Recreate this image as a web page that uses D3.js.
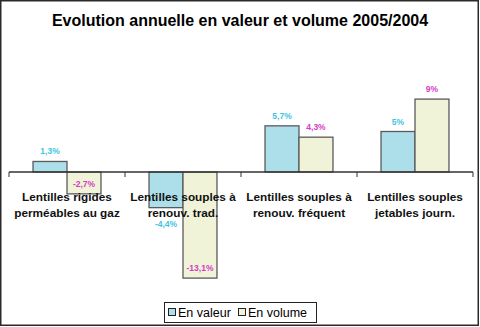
<!DOCTYPE html>
<html><head><meta charset="utf-8">
<script src="https://cdn.jsdelivr.net/npm/d3@7"></script>
<style>body{margin:0;background:#fff}svg{display:block}</style>
</head><body>
<svg id="c" width="480" height="327"></svg>
<script>
const title = "Evolution annuelle en valeur et volume 2005/2004";
const categories = [
  ["Lentilles rigides", "perméables au gaz"],
  ["Lentilles souples à", "renouv. trad."],
  ["Lentilles souples à", "renouv. fréquent"],
  ["Lentilles souples", "jetables journ."]
];
const seriesNames = ["En valeur", "En volume"];
const valeur = [1.3, -4.4, 5.7, 5];
const volume = [-2.7, -13.1, 4.3, 9];
const valeurLabels = ["1,3%", "-4,4%", "5,7%", "5%"];
const volumeLabels = ["-2,7%", "-13,1%", "4,3%", "9%"];

const fills = ["#ADDFEA", "#F0F3D8"];
const labelColors = ["#3EC5E0", "#D23DC4"];

const svg = d3.select("#c");
const font = "Arial, 'Liberation Sans', sans-serif";

svg.append("rect").attr("x", 0.75).attr("y", 0.75).attr("width", 477.5).attr("height", 324.5)
  .attr("fill", "#fff").attr("stroke", "#2a2a2a").attr("stroke-width", 1.5);

svg.append("text").attr("x", 240).attr("y", 26).attr("text-anchor", "middle")
  .attr("font-family", font).attr("font-weight", "bold").attr("font-size", 16)
  .attr("fill", "#000").text(title);

const x0 = d3.scaleBand().domain(d3.range(categories.length)).range([9, 473]).paddingInner(0).paddingOuter(0);
const x1 = d3.scaleBand().domain([0, 1]).range([0, x0.bandwidth()]).paddingInner(0).paddingOuter(0.707);
const y = d3.scaleLinear().domain([-14, 10]).range([285.4, 91]);

const data = [valeur, volume];
const labels = [valeurLabels, volumeLabels];

const g = svg.append("g");
data.forEach((vals, s) => {
  g.selectAll(".b" + s).data(vals).join("rect")
    .attr("x", (d, i) => x0(i) + x1(s))
    .attr("width", x1.bandwidth())
    .attr("y", d => y(Math.max(0, d)))
    .attr("height", d => Math.abs(y(d) - y(0)))
    .attr("fill", fills[s]).attr("stroke", "#5a5a5a").attr("stroke-width", 1.3);
});

// axis line and ticks
const ag = svg.append("g").attr("transform", `translate(0,${y(0)})`);
ag.append("line").attr("x1", x0.range()[0]).attr("x2", x0.range()[1])
  .attr("stroke", "#333").attr("stroke-width", 1.3);
const tickXs = d3.range(categories.length + 1).map(i => x0.range()[0] + i * x0.step());
ag.selectAll(".tk").data(tickXs).join("line")
  .attr("x1", d => d).attr("x2", d => d).attr("y1", 0).attr("y2", 5)
  .attr("stroke", "#333").attr("stroke-width", 1);

// value labels
data.forEach((vals, s) => {
  svg.selectAll(".l" + s).data(vals).join("text")
    .attr("x", (d, i) => x0(i) + x1(s) + x1.bandwidth() / 2)
    .attr("y", d => (d >= 0 || s === 1) ? y(d) - 7 : y(d) + 19)
    .attr("text-anchor", "middle")
    .attr("font-family", font).attr("font-size", 8.5).attr("font-weight", "bold")
    .attr("fill", labelColors[s])
    .text((d, i) => labels[s][i]);
});

// category labels
categories.forEach((lines, i) => {
  const t = svg.append("text").attr("text-anchor", "middle")
    .attr("font-family", font).attr("font-weight", "bold").attr("font-size", 11.8).attr("fill", "#111");
  lines.forEach((ln, k) => {
    t.append("tspan").attr("x", x0(i) + x0.bandwidth() / 2).attr("y", 201 + k * 16).text(ln);
  });
});

// legend
const lg = svg.append("g");
lg.append("rect").attr("x", 164.5).attr("y", 302.5).attr("width", 152).attr("height", 20)
  .attr("fill", "#fff").attr("stroke", "#222").attr("stroke-width", 1);
const legX = [168, 238];
seriesNames.forEach((n, s) => {
  lg.append("rect").attr("x", legX[s] + 0.5).attr("y", 308.5).attr("width", 7).attr("height", 7)
    .attr("fill", fills[s]).attr("stroke", "#222").attr("stroke-width", 1);
  lg.append("text").attr("x", legX[s] + 10).attr("y", 317)
    .attr("font-family", font).attr("font-size", 12.5).attr("fill", "#000").text(n);
});
</script>
</body></html>
